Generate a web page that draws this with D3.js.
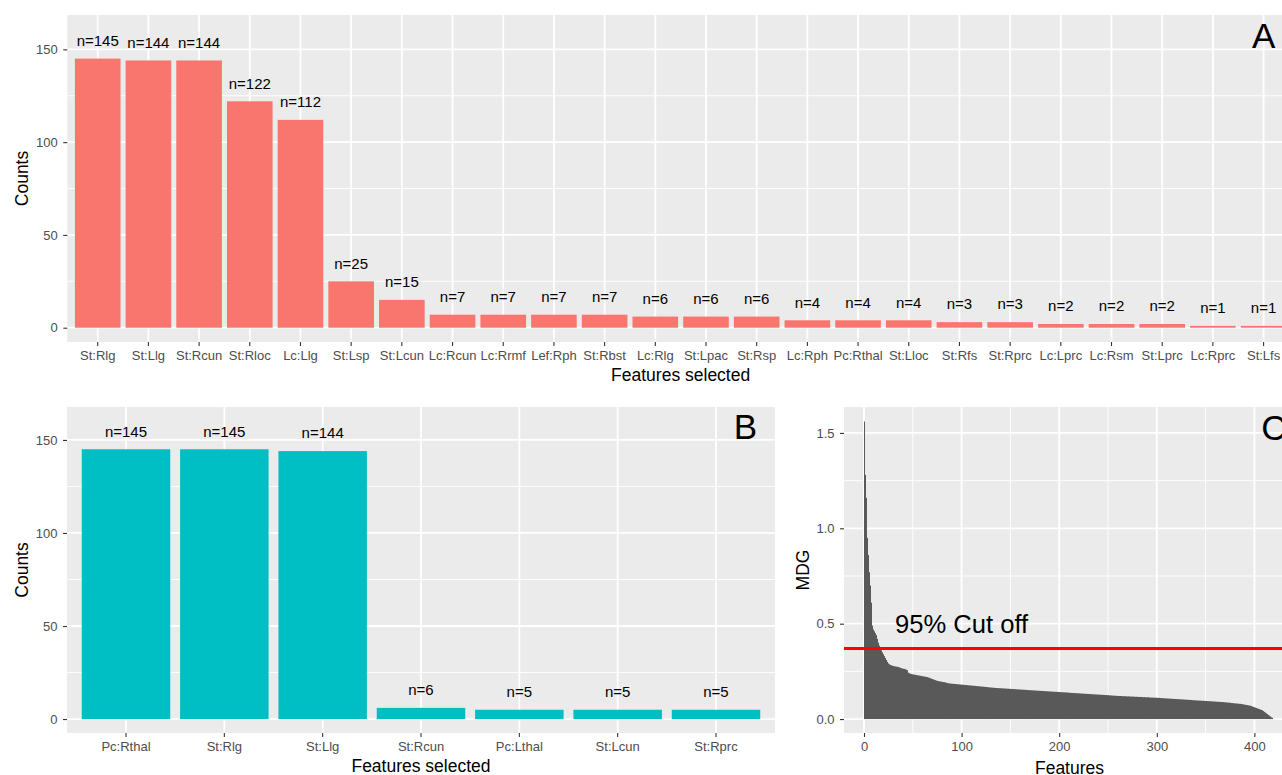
<!DOCTYPE html>
<html>
<head>
<meta charset="utf-8">
<script src="https://cdn.jsdelivr.net/npm/d3@7"></script>
<style>
  body { margin: 0; background: #fff; }
  svg { display: block; font-family: "Liberation Sans", Arial, sans-serif; }
</style>
</head>
<body>
<svg id="fig" width="1282" height="775"></svg>
<script>
// ---- Panel A: features selected across all runs ----
const featuresA = ["St:Rlg","St:Llg","St:Rcun","St:Rloc","Lc:Llg","St:Lsp","St:Lcun","Lc:Rcun",
  "Lc:Rrmf","Lef:Rph","St:Rbst","Lc:Rlg","St:Lpac","St:Rsp","Lc:Rph","Pc:Rthal","St:Lloc",
  "St:Rfs","St:Rprc","Lc:Lprc","Lc:Rsm","St:Lprc","Lc:Rprc","St:Lfs"];
const countsA = [145,144,144,122,112,25,15,7,7,7,7,6,6,6,4,4,4,3,3,2,2,2,1,1];

// ---- Panel B ----
const featuresB = ["Pc:Rthal","St:Rlg","St:Llg","St:Rcun","Pc:Lthal","St:Lcun","St:Rprc"];
const countsB = [145,145,144,6,5,5,5];

// ---- Panel C: mean decrease in Gini, sorted ----
const mdg = [
  1.56,1.28,1.16,0.95,0.86,0.77,0.70,0.61,0.49,0.47,
  0.46,0.45,0.44,0.42,0.40,0.385,0.37,0.36,0.35,0.34,
  0.33,0.32,0.31,0.30,0.292,0.287,0.284,0.282,0.280,0.278,
  0.277,0.276,0.275,0.274,0.273,0.271,0.269,0.267,0.265,0.264,
  0.263,0.262,0.261,0.259,0.256,0.243,0.240,0.238,0.236,0.235,
  0.234,0.233,0.232,0.231,0.230,0.229,0.228,0.227,0.226,0.225,
  0.224,0.223,0.222,0.221,0.220,0.218,0.216,0.214,0.212,0.210,
  0.208,0.206,0.204,0.202,0.200,0.199,0.198,0.197,0.196,0.195,
  0.194,0.193,0.192,0.191,0.190,0.189,0.188,0.187,0.186,0.186,
  0.185,0.185,0.184,0.184,0.183,0.183,0.182,0.182,0.181,0.181,
  0.180,0.180,0.179,0.179,0.178,0.178,0.177,0.177,0.176,0.176,
  0.175,0.175,0.174,0.174,0.173,0.173,0.172,0.172,0.171,0.171,
  0.170,0.170,0.169,0.169,0.168,0.168,0.167,0.167,0.166,0.166,
  0.165,0.165,0.164,0.164,0.163,0.163,0.163,0.162,0.162,0.162,
  0.161,0.161,0.161,0.160,0.160,0.160,0.159,0.159,0.159,0.158,
  0.158,0.158,0.157,0.157,0.157,0.156,0.156,0.156,0.155,0.155,
  0.155,0.154,0.154,0.154,0.153,0.153,0.153,0.152,0.152,0.152,
  0.151,0.151,0.151,0.150,0.150,0.150,0.149,0.149,0.149,0.148,
  0.148,0.148,0.147,0.147,0.147,0.146,0.146,0.146,0.145,0.145,
  0.145,0.144,0.144,0.144,0.143,0.143,0.143,0.142,0.142,0.142,
  0.141,0.141,0.141,0.140,0.140,0.140,0.139,0.139,0.139,0.138,
  0.138,0.138,0.137,0.137,0.137,0.136,0.136,0.136,0.135,0.135,
  0.135,0.134,0.134,0.134,0.133,0.133,0.133,0.132,0.132,0.132,
  0.131,0.131,0.131,0.130,0.130,0.130,0.129,0.129,0.129,0.128,
  0.128,0.128,0.127,0.127,0.127,0.126,0.126,0.126,0.125,0.125,
  0.125,0.124,0.124,0.124,0.123,0.123,0.123,0.122,0.122,0.122,
  0.121,0.121,0.121,0.121,0.120,0.120,0.120,0.120,0.119,0.119,
  0.119,0.119,0.118,0.118,0.118,0.118,0.117,0.117,0.117,0.117,
  0.116,0.116,0.116,0.116,0.115,0.115,0.115,0.115,0.114,0.114,
  0.114,0.114,0.113,0.113,0.113,0.113,0.112,0.112,0.112,0.112,
  0.111,0.111,0.111,0.110,0.110,0.110,0.109,0.109,0.109,0.108,
  0.108,0.108,0.107,0.107,0.107,0.106,0.106,0.106,0.105,0.105,
  0.105,0.104,0.104,0.104,0.103,0.103,0.103,0.102,0.102,0.102,
  0.101,0.101,0.101,0.100,0.100,0.100,0.099,0.099,0.099,0.098,
  0.098,0.098,0.097,0.097,0.097,0.096,0.096,0.096,0.095,0.095,
  0.095,0.094,0.094,0.094,0.093,0.093,0.093,0.092,0.092,0.092,
  0.091,0.091,0.091,0.090,0.090,0.090,0.089,0.089,0.088,0.088,
  0.087,0.087,0.086,0.086,0.085,0.085,0.084,0.084,0.083,0.083,
  0.082,0.082,0.081,0.081,0.080,0.080,0.079,0.078,0.077,0.076,
  0.075,0.074,0.073,0.072,0.071,0.070,0.068,0.066,0.064,0.062,
  0.060,0.058,0.056,0.054,0.052,0.050,0.048,0.046,0.042,0.038,
  0.034,0.030,0.026,0.022,0.018,0.014,0.011,0.009,0.007
];
const cutoff = 0.37;

const countTicks = [0, 50, 100, 150];
const countMinor = [25, 75, 125];
const mdgTicks = [0, 0.5, 1.0, 1.5];
const mdgMinor = [0.25, 0.75, 1.25];
const featureTicks = [0, 100, 200, 300, 400];
const featureMinor = [50, 150, 250, 350];

// ---- theme ----
const PANEL_BG = "#EBEBEB";
const TICK_COL = "#333333";
const TICK_TXT = "#4D4D4D";
const TICK_FS = 13;
const TITLE_FS = 17.5;
const TAG_FS = 35;
const LABEL_FS = 15;

const svg = d3.select("#fig");

function panelBase(g, x0, x1, y0, y1, clipId) {
  g.append("rect").attr("x", x0).attr("y", y0).attr("width", x1 - x0).attr("height", y1 - y0)
    .attr("fill", PANEL_BG);
  svg.append("defs").append("clipPath").attr("id", clipId)
    .append("rect").attr("x", x0).attr("y", y0).attr("width", x1 - x0).attr("height", y1 - y0);
}

function hGrid(g, y, vals, x0, x1, w) {
  g.selectAll(null).data(vals).join("line")
    .attr("x1", x0).attr("x2", x1).attr("y1", d => y(d)).attr("y2", d => y(d))
    .attr("stroke", "#fff").attr("stroke-width", w);
}
function vGrid(g, xs, y0, y1, w) {
  g.selectAll(null).data(xs).join("line")
    .attr("x1", d => d).attr("x2", d => d).attr("y1", y0).attr("y2", y1)
    .attr("stroke", "#fff").attr("stroke-width", w);
}

function styleAxis(ax) {
  ax.select(".domain").remove();
  ax.selectAll(".tick line").attr("stroke", TICK_COL).attr("stroke-width", 1.1);
  ax.selectAll(".tick text").attr("fill", TICK_TXT).attr("font-size", TICK_FS)
    .attr("font-family", "Liberation Sans, Arial, sans-serif");
}

function countPanel(cfg) {
  const { feats, counts, x0, x1, y0, y1, yDom, color, tag, tagAtIndex, clipId } = cfg;
  const g = svg.append("g");
  panelBase(g, x0, x1, y0, y1, clipId);

  const x = d3.scaleBand().domain(feats).range([x0, x1]).paddingInner(0.1).paddingOuter(0.15);
  const y = d3.scaleLinear().domain(yDom).range([y1, y0]);
  const cx = d => x(d) + x.bandwidth() / 2;

  hGrid(g, y, countMinor, x0, x1, 0.9);
  hGrid(g, y, countTicks, x0, x1, 1.8);
  vGrid(g, feats.map(cx), y0, y1, 1.8);

  const plot = g.append("g").attr("clip-path", `url(#${clipId})`);
  plot.selectAll("rect.bar").data(feats).join("rect").attr("class", "bar")
    .attr("x", d => x(d)).attr("width", x.bandwidth())
    .attr("y", (d, i) => y(counts[i])).attr("height", (d, i) => y(0) - y(counts[i]))
    .attr("fill", color);

  plot.selectAll("text.lbl").data(feats).join("text").attr("class", "lbl")
    .attr("x", cx).attr("y", (d, i) => y(counts[i]) - 12.7)
    .attr("text-anchor", "middle").attr("font-size", LABEL_FS).attr("fill", "#000")
    .text((d, i) => "n=" + counts[i]);

  plot.append("text")
    .attr("x", cx(feats[tagAtIndex.i]) + tagAtIndex.dx * x.step())
    .attr("y", y(157.5) + 0.358 * TAG_FS)
    .attr("text-anchor", "middle").attr("font-size", TAG_FS).attr("fill", "#000").text(tag);

  const ay = g.append("g").attr("transform", `translate(${x0},0)`)
    .call(d3.axisLeft(y).tickValues(countTicks).tickSize(4).tickPadding(5.5));
  styleAxis(ay);
  const ax = g.append("g").attr("transform", `translate(0,${y1})`)
    .call(d3.axisBottom(x).tickSize(4).tickPadding(4.8));
  styleAxis(ax);

  g.append("text").attr("x", (x0 + x1) / 2).attr("y", y1 + 38.5).attr("text-anchor", "middle")
    .attr("font-size", TITLE_FS).attr("fill", "#000").text("Features selected");
  g.append("text").attr("transform", `translate(28,${(y0 + y1) / 2}) rotate(-90)`)
    .attr("text-anchor", "middle").attr("font-size", TITLE_FS).attr("fill", "#000").text("Counts");
}

countPanel({ feats: featuresA, counts: countsA, x0: 67.3, x1: 1294, y0: 15, y1: 342,
  yDom: [-7.7, 168.5], color: "#F8766D", tag: "A", tagAtIndex: { i: 23, dx: 0 }, clipId: "clipA" });

countPanel({ feats: featuresB, counts: countsB, x0: 67, x1: 775, y0: 407, y1: 733,
  yDom: [-7.5, 167.7], color: "#00BFC4", tag: "B", tagAtIndex: { i: 6, dx: 0.3 }, clipId: "clipB" });

// ---- Panel C ----
(function () {
  const x0 = 844, x1 = 1295, y0 = 407, y1 = 733;
  const g = svg.append("g");
  panelBase(g, x0, x1, y0, y1, "clipC");
  const x = d3.scaleLinear().domain([-20.5, 441.6]).range([x0, x1]);
  const y = d3.scaleLinear().domain([-0.073, 1.636]).range([y1, y0]);

  hGrid(g, y, mdgMinor, x0, x1, 0.9);
  hGrid(g, y, mdgTicks, x0, x1, 1.8);
  vGrid(g, featureMinor.map(x), y0, y1, 0.9);
  vGrid(g, featureTicks.map(x), y0, y1, 1.8);

  // bars narrower than a pixel: each is snapped to a whole device pixel column
  const plot = g.append("g").attr("clip-path", "url(#clipC)");
  plot.selectAll("rect").data(mdg).join("rect")
    .attr("x", (d, i) => Math.round(x(i + 1) - 0.5)).attr("width", 1)
    .attr("y", d => y(d)).attr("height", d => y(0) - y(d))
    .attr("fill", "#595959");

  plot.append("line").attr("x1", x0).attr("x2", x1).attr("y1", y(cutoff)).attr("y2", y(cutoff))
    .attr("stroke", "#FF0000").attr("stroke-width", 3);

  plot.append("text").attr("x", x(100)).attr("y", y(0.5) + 0.358 * 25.6)
    .attr("text-anchor", "middle").attr("font-size", 25.6).attr("fill", "#000").text("95% Cut off");

  plot.append("text").attr("x", x(420)).attr("y", y(1.53) + 0.358 * TAG_FS)
    .attr("text-anchor", "middle").attr("font-size", TAG_FS).attr("fill", "#000").text("C");

  const ay = g.append("g").attr("transform", `translate(${x0},0)`)
    .call(d3.axisLeft(y).tickValues(mdgTicks).tickFormat(d3.format(".1f")).tickSize(4).tickPadding(5.5));
  styleAxis(ay);
  const ax = g.append("g").attr("transform", `translate(0,${y1})`)
    .call(d3.axisBottom(x).tickValues(featureTicks).tickFormat(d3.format("d")).tickSize(4).tickPadding(4.8));
  styleAxis(ax);

  g.append("text").attr("x", (x0 + x1) / 2).attr("y", y1 + 41).attr("text-anchor", "middle")
    .attr("font-size", TITLE_FS).attr("fill", "#000").text("Features");
  g.append("text").attr("transform", `translate(809,${(y0 + y1) / 2}) rotate(-90)`)
    .attr("text-anchor", "middle").attr("font-size", TITLE_FS).attr("fill", "#000").text("MDG");
})();
</script>
</body>
</html>
